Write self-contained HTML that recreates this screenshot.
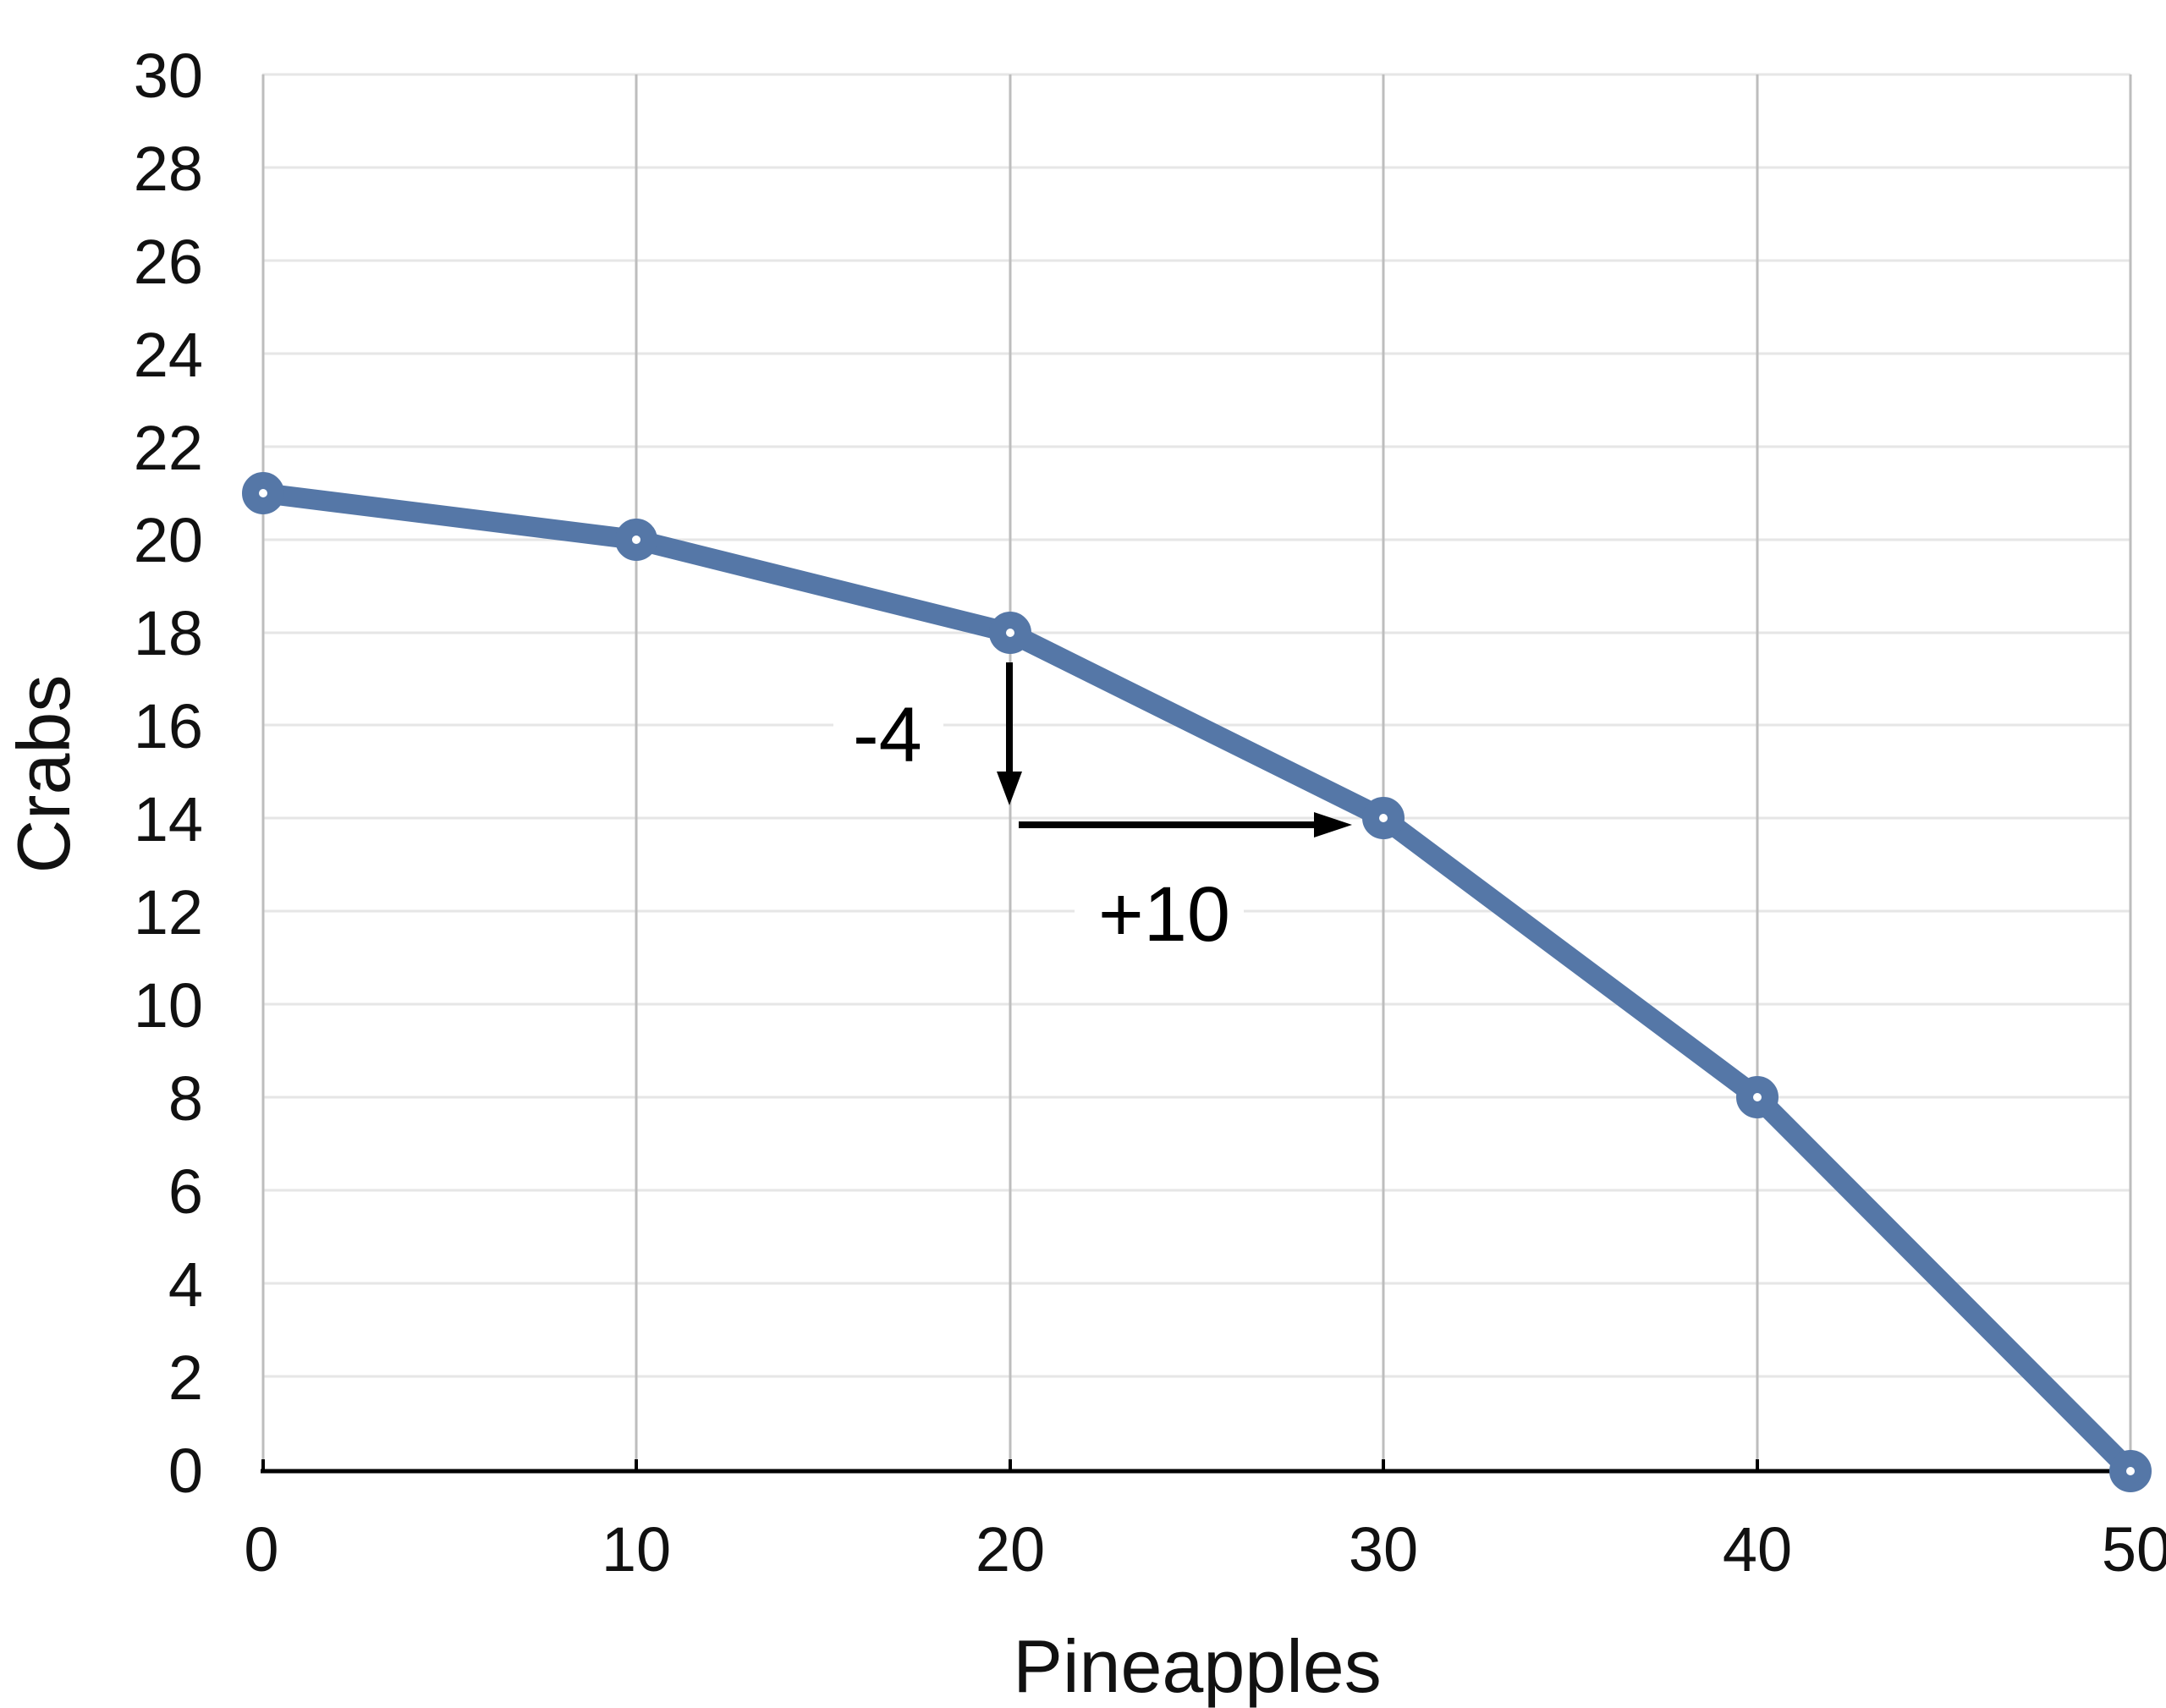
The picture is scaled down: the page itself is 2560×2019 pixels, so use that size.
<!DOCTYPE html>
<html><head><style>html,body{margin:0;padding:0;background:#fff;}svg{display:block}</style></head>
<body>
<svg width="2560" height="2019" viewBox="0 0 2560 2019" xmlns="http://www.w3.org/2000/svg">
<rect width="2560" height="2019" fill="#fff"/>
<g stroke="#e6e6e6" stroke-width="3">
<line x1="310" x2="2518" y1="88" y2="88"/><line x1="310" x2="2518" y1="198" y2="198"/>
<line x1="310" x2="2518" y1="308" y2="308"/><line x1="310" x2="2518" y1="418" y2="418"/>
<line x1="310" x2="2518" y1="528" y2="528"/><line x1="310" x2="2518" y1="638" y2="638"/>
<line x1="310" x2="2518" y1="748" y2="748"/><line x1="310" x2="2518" y1="857" y2="857"/>
<line x1="310" x2="2518" y1="967" y2="967"/><line x1="310" x2="2518" y1="1077" y2="1077"/>
<line x1="310" x2="2518" y1="1187" y2="1187"/><line x1="310" x2="2518" y1="1297" y2="1297"/>
<line x1="310" x2="2518" y1="1407" y2="1407"/><line x1="310" x2="2518" y1="1517" y2="1517"/>
<line x1="310" x2="2518" y1="1627" y2="1627"/>
</g>
<g stroke="#bdbdbd" stroke-width="3">
<line x1="311" x2="311" y1="88" y2="1737"/><line x1="752" x2="752" y1="88" y2="1737"/>
<line x1="1194" x2="1194" y1="88" y2="1737"/><line x1="1635" x2="1635" y1="88" y2="1737"/>
<line x1="2077" x2="2077" y1="88" y2="1737"/><line x1="2518" x2="2518" y1="88" y2="1737"/>
</g>
<rect x="985" y="820" width="130" height="90" fill="#fff"/>
<rect x="1270" y="1040" width="200" height="90" fill="#fff"/>
<line x1="308" x2="2520" y1="1739" y2="1739" stroke="#000" stroke-width="5"/>
<g stroke="#000" stroke-width="4">
<line x1="311" x2="311" y1="1725" y2="1739"/><line x1="752" x2="752" y1="1725" y2="1739"/>
<line x1="1194" x2="1194" y1="1725" y2="1739"/><line x1="1635" x2="1635" y1="1725" y2="1739"/>
<line x1="2077" x2="2077" y1="1725" y2="1739"/>
</g>
<polyline points="311,583 752,638 1194,748 1635,967 2077,1297 2518,1739" fill="none" stroke="#5577a7" stroke-width="24" stroke-linejoin="round"/>
<g fill="#fff" stroke="#5577a7" stroke-width="20">
<circle cx="311" cy="583" r="15"/><circle cx="752" cy="638" r="15"/><circle cx="1194" cy="748" r="15"/>
<circle cx="1635" cy="967" r="15"/><circle cx="2077" cy="1297" r="15"/><circle cx="2518" cy="1739" r="15"/>
</g>
<g stroke="#000" stroke-width="8">
<line x1="1193" x2="1193" y1="783" y2="915"/>
<line x1="1204" x2="1555" y1="975" y2="975"/>
</g>
<polygon points="1178,912 1208,912 1193,952" fill="#000"/>
<polygon points="1553,960 1553,990 1598,975" fill="#000"/>
<g font-family="Liberation Sans, sans-serif" font-size="92" fill="#000">
<text x="1008" y="900">-4</text>
<text x="1298" y="1112">+10</text>
</g>
<g font-family="Liberation Sans, sans-serif" font-size="74" fill="#111" text-anchor="end">
<text x="240" y="1764">0</text><text x="240" y="1654">2</text><text x="240" y="1544">4</text>
<text x="240" y="1434">6</text><text x="240" y="1324">8</text><text x="240" y="1214">10</text>
<text x="240" y="1104">12</text><text x="240" y="994">14</text><text x="240" y="884">16</text>
<text x="240" y="774">18</text><text x="240" y="664">20</text><text x="240" y="555">22</text>
<text x="240" y="445">24</text><text x="240" y="335">26</text><text x="240" y="225">28</text>
<text x="240" y="115">30</text>
</g>
<g font-family="Liberation Sans, sans-serif" font-size="74" fill="#111" text-anchor="middle">
<text x="309" y="1857">0</text><text x="752" y="1857">10</text><text x="1194" y="1857">20</text>
<text x="1635" y="1857">30</text><text x="2077" y="1857">40</text><text x="2525" y="1857">50</text>
</g>
<text x="1415" y="2000" font-family="Liberation Sans, sans-serif" font-size="88" fill="#111" text-anchor="middle">Pineapples</text>
<text x="0" y="0" transform="translate(82,915) rotate(-90)" font-family="Liberation Sans, sans-serif" font-size="88" fill="#111" text-anchor="middle">Crabs</text>
</svg>
</body></html>
